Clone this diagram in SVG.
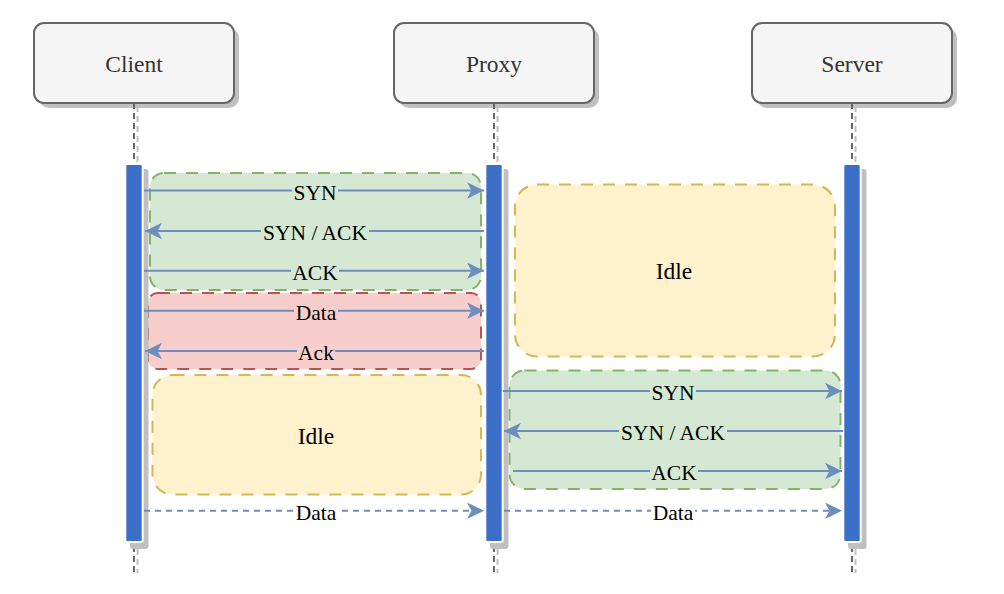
<svg xmlns="http://www.w3.org/2000/svg" width="1004" height="594" viewBox="0 0 1004 594">
<defs>
<marker id="arr" viewBox="0 0 17 17" refX="17" refY="8.5" markerWidth="17" markerHeight="17" markerUnits="userSpaceOnUse" orient="auto">
<path d="M17,8.5 L0,0.3 L4.5,8.5 L0,16.7 Z" fill="#6c8ebf"/>
</marker>
<style>
.box{fill:#f5f5f5;stroke:#666;stroke-width:2}
.shadow{fill:#c0c0c0}
.nlabel{font-family:"Liberation Serif","Times New Roman",serif;font-size:23.5px;fill:#333;text-anchor:middle}
.life{stroke:#666;stroke-width:2;stroke-dasharray:6 4;fill:none}
.lifes{stroke:#c0c0c0;stroke-width:2;stroke-dasharray:6 4;fill:none}
.bar{fill:#3c6fc8;stroke:#fff;stroke-width:2}
.green{fill:#d5e8d4;stroke:#82b366;stroke-width:2;stroke-dasharray:12 10}
.red{fill:#f8cecc;stroke:#b85450;stroke-width:2;stroke-dasharray:12 10}
.yellow{fill:#fff2cc;stroke:#d6b656;stroke-width:2;stroke-dasharray:12 10}
.msg{stroke:#6c8ebf;stroke-width:2;fill:none;marker-end:url(#arr)}
.dash{stroke-dasharray:6 5}
.elabel{font-family:"Liberation Serif","Times New Roman",serif;font-size:21.5px;fill:#000;text-anchor:middle}
.rlabel{font-family:"Liberation Serif","Times New Roman",serif;font-size:23.5px;fill:#000;text-anchor:middle}
</style>
</defs>
<rect width="1004" height="594" fill="#fff"/>

<!-- Regions -->
<g id="region-client-handshake">
<rect class="green" x="150" y="173" width="331" height="117" rx="14"/>
</g>
<g id="region-data">
<rect class="red" x="148" y="293" width="333" height="76" rx="10"/>
</g>
<g id="region-client-idle">
<rect class="yellow" x="152.5" y="375" width="328.5" height="119.5" rx="20"/>
<text class="rlabel" x="316" y="443.5">Idle</text>
</g>
<g id="region-server-idle">
<rect class="yellow" x="515" y="184.5" width="320" height="172" rx="22"/>
<text class="rlabel" x="674" y="279">Idle</text>
</g>
<g id="region-server-handshake">
<rect class="green" x="509.5" y="370.5" width="331" height="118.5" rx="15"/>
</g>

<!-- Client -->
<g id="client">
<rect class="shadow" x="39" y="28" width="200" height="80" rx="10"/>
<rect class="box" x="34" y="23" width="200" height="80" rx="10"/>
<text class="nlabel" x="134" y="71.5">Client</text>
<line class="lifes" x1="137.5" y1="106" x2="137.5" y2="166"/>
<line class="life" x1="134" y1="103" x2="134" y2="164"/>
<line class="lifes" x1="137.5" y1="549" x2="137.5" y2="573"/>
<line class="life" x1="134" y1="546" x2="134" y2="572"/>
<rect class="shadow" x="130" y="169" width="18.5" height="380" rx="3"/>
<rect class="bar" x="125.3" y="164" width="17.4" height="378" rx="2"/>
</g>

<!-- Proxy -->
<g id="proxy">
<rect class="shadow" x="399" y="28" width="200" height="80" rx="10"/>
<rect class="box" x="394" y="23" width="200" height="80" rx="10"/>
<text class="nlabel" x="494" y="71.5">Proxy</text>
<line class="lifes" x1="497.5" y1="106" x2="497.5" y2="166"/>
<line class="life" x1="494" y1="103" x2="494" y2="164"/>
<line class="lifes" x1="497.5" y1="549" x2="497.5" y2="573"/>
<line class="life" x1="494" y1="546" x2="494" y2="572"/>
<rect class="shadow" x="490" y="169" width="18.5" height="380" rx="3"/>
<rect class="bar" x="485.3" y="164" width="17.4" height="378" rx="2"/>
</g>

<!-- Server -->
<g id="server">
<rect class="shadow" x="757" y="28" width="200" height="80" rx="10"/>
<rect class="box" x="752" y="23" width="200" height="80" rx="10"/>
<text class="nlabel" x="852" y="71.5">Server</text>
<line class="lifes" x1="855.5" y1="106" x2="855.5" y2="166"/>
<line class="life" x1="852" y1="103" x2="852" y2="164"/>
<line class="lifes" x1="855.5" y1="549" x2="855.5" y2="573"/>
<line class="life" x1="852" y1="546" x2="852" y2="572"/>
<rect class="shadow" x="848" y="169" width="18.5" height="380" rx="3"/>
<rect class="bar" x="843.3" y="164" width="17.4" height="378" rx="2"/>
</g>

<!-- Connectors -->
<g id="connectors">
<line class="msg" x1="144" y1="190.5" x2="484" y2="190.5"/>
<rect x="292" y="180" width="46" height="22" fill="#d5e8d4"/>
<text class="elabel" x="315" y="199.5">SYN</text>

<line class="msg" x1="484" y1="231" x2="145" y2="231"/>
<rect x="261" y="220" width="108" height="22" fill="#d5e8d4"/>
<text class="elabel" x="315" y="240">SYN / ACK</text>

<line class="msg" x1="144" y1="270.7" x2="484" y2="270.7"/>
<rect x="291" y="260" width="48" height="22" fill="#d5e8d4"/>
<text class="elabel" x="315" y="279.7">ACK</text>

<line class="msg" x1="144" y1="310.7" x2="484" y2="310.7"/>
<rect x="294" y="300" width="44" height="22" fill="#f8cecc"/>
<text class="elabel" x="316" y="319.7">Data</text>

<line class="msg" x1="484" y1="351" x2="145" y2="351"/>
<rect x="297" y="340" width="38" height="22" fill="#f8cecc"/>
<text class="elabel" x="316" y="360">Ack</text>

<line class="msg" x1="503" y1="391" x2="842" y2="391"/>
<rect x="650" y="380" width="46" height="22" fill="#d5e8d4"/>
<text class="elabel" x="673" y="400">SYN</text>

<line class="msg" x1="843" y1="431" x2="504" y2="431"/>
<rect x="619" y="420" width="108" height="22" fill="#d5e8d4"/>
<text class="elabel" x="673" y="440">SYN / ACK</text>

<line class="msg" x1="513" y1="471" x2="842" y2="471"/>
<rect x="650" y="460" width="48" height="22" fill="#d5e8d4"/>
<text class="elabel" x="674" y="480">ACK</text>

<line class="msg dash" x1="144" y1="510.7" x2="484" y2="510.7"/>
<rect x="294" y="500" width="44" height="22" fill="#fff"/>
<text class="elabel" x="316" y="519.7">Data</text>

<line class="msg dash" x1="504" y1="510.7" x2="842" y2="510.7"/>
<rect x="651" y="500" width="44" height="22" fill="#fff"/>
<text class="elabel" x="673" y="519.7">Data</text>
</g>
</svg>
